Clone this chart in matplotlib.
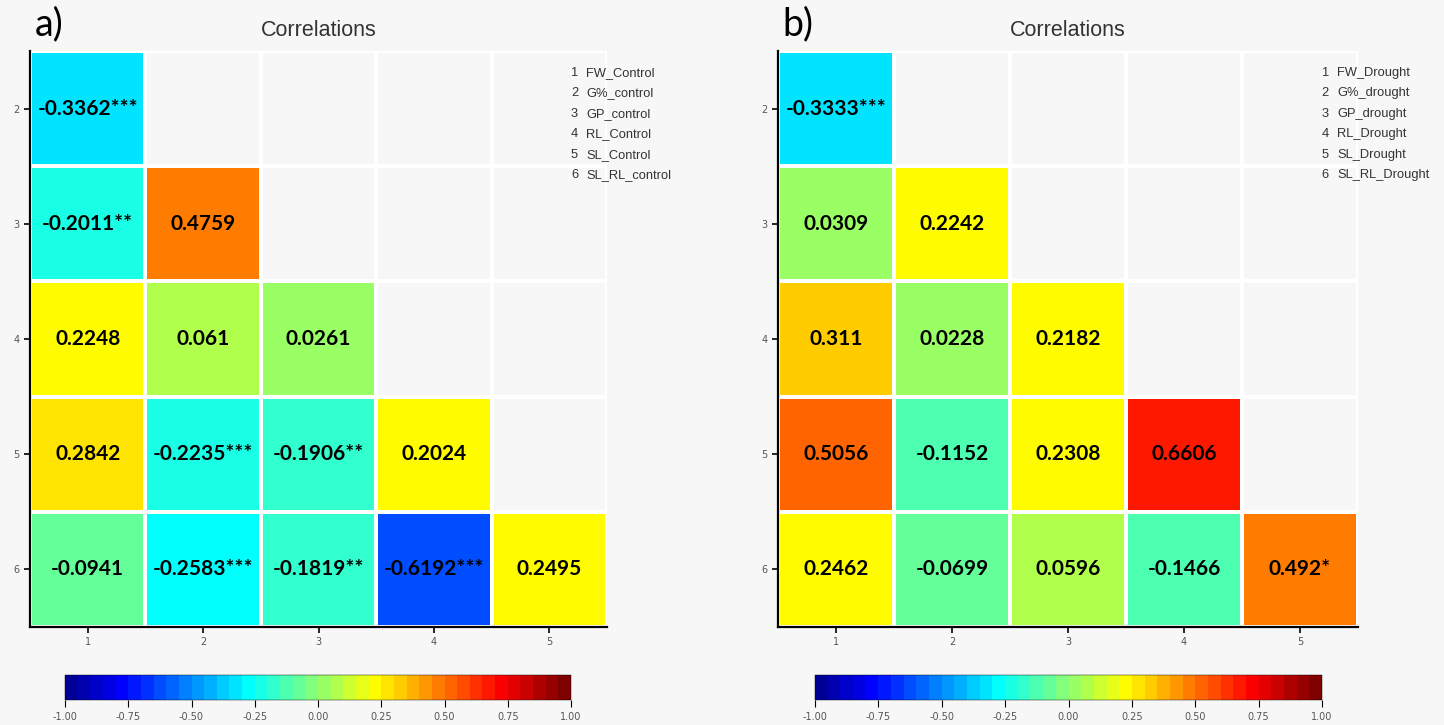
import numpy as np
import matplotlib
matplotlib.use("Agg")
import matplotlib.pyplot as plt
from matplotlib.colors import BoundaryNorm, LinearSegmentedColormap, ListedColormap

# correlation values, rows = variables 2..6, cols = variables 1..5
rows = [2, 3, 4, 5, 6]
cols = [1, 2, 3, 4, 5]

control_vals = [
    [-0.3362],
    [-0.2011, 0.4759],
    [0.2248, 0.061, 0.0261],
    [0.2842, -0.2235, -0.1906, 0.2024],
    [-0.0941, -0.2583, -0.1819, -0.6192, 0.2495],
]
control_sig = [
    ["***"],
    ["**", ""],
    ["", "", ""],
    ["", "***", "**", ""],
    ["", "***", "**", "***", ""],
]
control_names = ["FW_Control", "G%_control", "GP_control", "RL_Control",
                 "SL_Control", "SL_RL_control"]

drought_vals = [
    [-0.3333],
    [0.0309, 0.2242],
    [0.311, 0.0228, 0.2182],
    [0.5056, -0.1152, 0.2308, 0.6606],
    [0.2462, -0.0699, 0.0596, -0.1466, 0.492],
]
drought_sig = [
    ["***"],
    ["", ""],
    ["", "", ""],
    ["", "", "", ""],
    ["", "", "", "", "*"],
]
drought_names = ["FW_Drought", "G%_drought", "GP_drought", "RL_Drought",
                 "SL_Drought", "SL_RL_Drought"]

cbar_ticks = [-1.0, -0.75, -0.5, -0.25, 0.0, 0.25, 0.5, 0.75, 1.0]

W, H = 1444, 725
BG = "#f7f7f7"

# matlab-like jet palette, 40 steps, each bin coloured by its upper edge
jet9 = LinearSegmentedColormap.from_list(
    "jet9", ["#00007F", "#0000FF", "#007FFF", "#00FFFF", "#7FFF7F",
             "#FFFF00", "#FF7F00", "#FF0000", "#7F0000"])
nbin = 40
cmap = ListedColormap([jet9((k + 1) / nbin) for k in range(nbin)])
norm = BoundaryNorm(np.linspace(-1, 1, nbin + 1), nbin)


def box(l, t, r, b):
    return [l / W, (H - b) / H, (r - l) / W, (b - t) / H]


def panel(fig, rect, cbrect, vals, sig, names, letter):
    ax = fig.add_axes(box(*rect))
    ax.set_facecolor(BG)
    mat = np.full((len(rows), len(cols)), np.nan)
    for i, row in enumerate(vals):
        for j, v in enumerate(row):
            mat[i, j] = v
    xe = np.arange(len(cols) + 1) + 0.5
    ye = np.arange(len(rows) + 1) + 1.5
    mesh = ax.pcolormesh(xe, ye, np.ma.masked_invalid(mat), cmap=cmap, norm=norm,
                         edgecolor="white", linewidth=1.5, zorder=2)
    for i, row in enumerate(vals):
        for j, v in enumerate(row):
            ax.text(cols[j], rows[i], "%g%s" % (v, sig[i][j]), ha="center", va="center",
                    fontsize=15, fontweight="bold", family="Lato", zorder=3)
    ax.set_xlim(0.5, 5.5)
    ax.set_ylim(6.5, 1.5)
    ax.set_xticks(cols)
    ax.set_yticks(rows)
    ax.set_xticks(xe, minor=True)
    ax.set_yticks(ye, minor=True)
    ax.grid(which="minor", color="white", linewidth=1.2, zorder=1)
    ax.tick_params(which="minor", length=0)
    ax.tick_params(labelsize=7, labelcolor="#555555", length=4, width=1.2)
    ax.set_axisbelow(True)
    for s in ["top", "right"]:
        ax.spines[s].set_visible(False)
    for s in ["left", "bottom"]:
        ax.spines[s].set_linewidth(1.6)
    ax.set_title("Correlations", fontsize=15.5, color="#333333", pad=11,
                 family="Liberation Sans")
    ax.text(0.008, 1.027, letter, transform=ax.transAxes, fontsize=27, family="Lato",
            ha="left", va="baseline")
    for k, nm in enumerate(names):
        y = 0.962 - k * 0.0355
        ax.text(0.95, y, str(k + 1), transform=ax.transAxes, fontsize=9.3,
                color="#333333", ha="right", va="center", family="Liberation Sans")
        ax.text(0.964, y, nm, transform=ax.transAxes, fontsize=9.3,
                color="#333333", ha="left", va="center", family="Liberation Sans")

    cax = fig.add_axes(box(*cbrect))
    cb = fig.colorbar(mesh, cax=cax, orientation="horizontal", ticks=cbar_ticks)
    cb.outline.set_linewidth(0.3)
    cb.minorticks_off()
    cb.ax.set_xticklabels(["%.2f" % t for t in cbar_ticks])
    cb.ax.tick_params(labelsize=7, labelcolor="#555555", length=5, width=0.8,
                      direction="out")


fig = plt.figure(figsize=(W / 100, H / 100), dpi=100, facecolor=BG)
panel(fig, (30, 51, 607, 627), (65, 675, 571, 700), control_vals, control_sig,
      control_names, "a)")
panel(fig, (778, 51, 1358, 627), (815, 675, 1322, 700), drought_vals, drought_sig,
      drought_names, "b)")
fig.savefig("out.png", dpi=100, facecolor=BG)
